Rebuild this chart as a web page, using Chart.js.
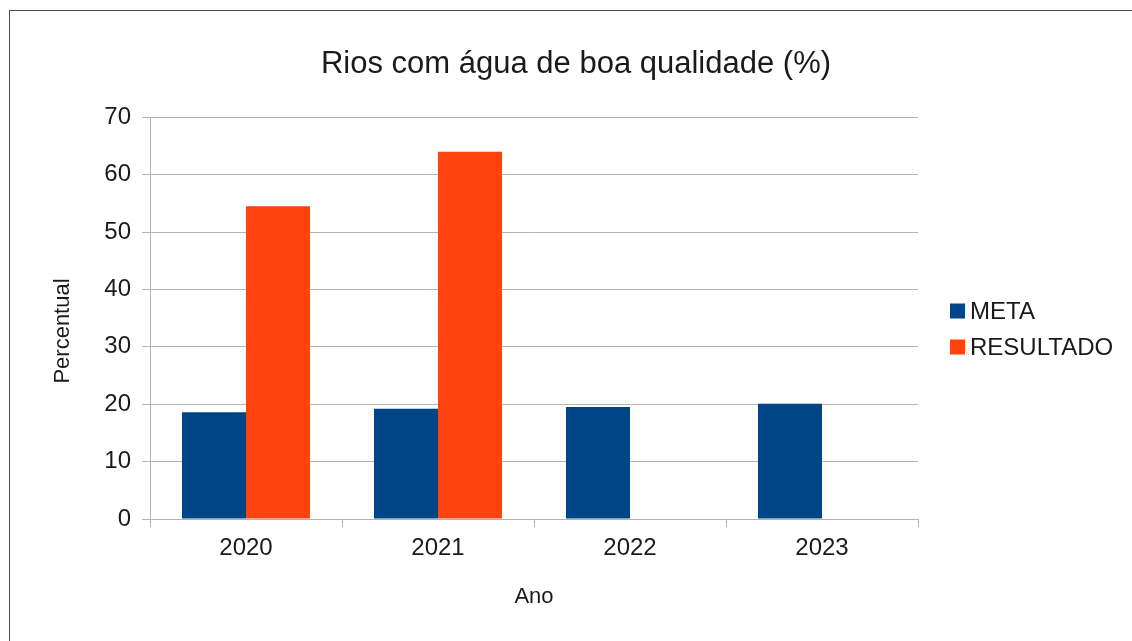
<!DOCTYPE html>
<html>
<head>
<meta charset="utf-8">
<script src="https://cdn.jsdelivr.net/npm/chart.js@4/dist/chart.umd.min.js"></script>
<style>
  body { margin: 0; background: #fff; }
  #wrap { position: relative; width: 1132px; height: 641px; }
  #frame { position: absolute; left: 9px; top: 10px; right: -5px; bottom: -5px; border: 1px solid #4d4d4d; pointer-events: none; }
</style>
</head>
<body>
<div id="wrap">
  <canvas id="chart" width="1132" height="641"></canvas>
  <div id="frame"></div>
</div>
<script>
const years = ["2020", "2021", "2022", "2023"];
const meta = [18.6, 19.2, 19.5, 20.1];
const resultado = [54.5, 64.0, null, null];

const FONT = "'Liberation Sans', Arial, sans-serif";
const GRID = "#b3b3b3";
const TEXT = "#1a1a1a";

// legend and y-axis title drawn by hand to sit where the reference puts them
const sideLegend = {
  id: "sideLegend",
  afterDraw(chart) {
    const ctx = chart.ctx;
    ctx.save();
    ctx.font = "24px " + FONT;
    ctx.textBaseline = "middle";
    ctx.textAlign = "left";
    chart.data.datasets.forEach((ds, i) => {
      const y = 311 + i * 36;
      ctx.fillStyle = ds.backgroundColor;
      ctx.fillRect(950, y - 7.5, 15, 15);
      ctx.fillStyle = TEXT;
      ctx.fillText(ds.label, 970, y + 1);
    });
    // Percentual
    ctx.font = "22px " + FONT;
    ctx.textAlign = "center";
    ctx.translate(63, 331);
    ctx.rotate(-Math.PI / 2);
    ctx.fillText("Percentual", 0, 0);
    ctx.restore();
  }
};

new Chart(document.getElementById("chart"), {
  type: "bar",
  data: {
    labels: years,
    datasets: [
      { label: "META", data: meta, backgroundColor: "#004586" },
      { label: "RESULTADO", data: resultado, backgroundColor: "#ff420e" }
    ]
  },
  options: {
    responsive: false,
    animation: false,
    layout: { padding: { left: 20, right: 0, top: 0, bottom: 0 } },
    datasets: { bar: { categoryPercentage: 0.667, barPercentage: 1.0 } },
    plugins: {
      legend: { display: false },
      tooltip: { enabled: false },
      title: {
        display: true,
        text: "Rios com água de boa qualidade (%)",
        color: TEXT,
        font: { family: FONT, size: 31, weight: "normal" },
        padding: { top: 46, bottom: 34 }
      }
    },
    scales: {
      x: {
        grid: {
          offset: true,
          color: (c) => (c.index === 4 ? GRID : "rgba(0,0,0,0)"),
          tickColor: GRID,
          tickLength: 8
        },
        border: { color: GRID },
        ticks: { color: TEXT, font: { family: FONT, size: 24 }, padding: 7 },
        title: {
          display: true,
          text: "Ano",
          color: TEXT,
          font: { family: FONT, size: 22 },
          padding: { top: 0, bottom: 31 }
        },
        afterFit: (s) => { s.height = 122; }
      },
      y: {
        min: 0,
        max: 70,
        ticks: { stepSize: 10, color: TEXT, font: { family: FONT, size: 24 }, padding: 11 },
        grid: { color: GRID, tickColor: GRID, tickLength: 8 },
        border: { color: GRID },
        afterFit: (s) => { s.width = 130; }
      },
      // empty right-hand axis that only reserves room for the legend
      yPad: {
        position: "right",
        min: 0,
        max: 70,
        grid: { display: false },
        border: { display: false },
        ticks: { display: false },
        afterFit: (s) => { s.width = 214; }
      }
    }
  },
  plugins: [sideLegend]
});
</script>
</body>
</html>
